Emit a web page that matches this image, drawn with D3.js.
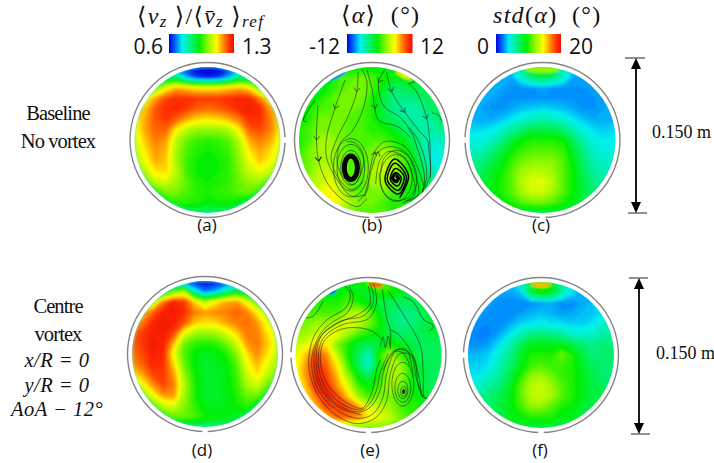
<!DOCTYPE html>
<html>
<head>
<meta charset="utf-8">
<script src="https://cdn.jsdelivr.net/npm/d3@7"></script>
<style>
html, body { margin: 0; padding: 0; background: #fff; }
svg { display: block; }
.math { font-family: "Liberation Serif", "DejaVu Serif", serif; font-style: italic; }
.num { font-family: "Open Sans", "Noto Sans", sans-serif; }
</style>
</head>
<body>
<svg id="chart" width="714" height="463"></svg>
<script>
// colour map: position on the bar -> colour
var stopPos = [0, 0.1, 0.2, 0.33, 0.47, 0.6, 0.73, 0.83, 0.93, 1];
var stopColor = ["#0000e0", "#0070ff", "#00f0f0", "#00f080", "#00f000", "#90f800", "#ffff00", "#ff9000", "#ff3000", "#f01000"];

var barMin = ["0.6", "-12", "0"];
var barMax = ["1.3", "12", "20"];
var captions = ["(a)", "(b)", "(c)", "(d)", "(e)", "(f)"];

// fields, 15 x 15 nodes from top-left, x/R and y/R from -1 to 1
var fieldA = [
.6,.6,.6,.6,.6,.6,.6,.6,.6,.6,.6,.6,.6,.6,.6,
.85,.85,.85,.85,.85,.72,.64,.62,.64,.72,.85,.85,.85,.85,.85,
1.0,1.0,1.0,1.1,1.16,1.14,1.12,1.12,1.12,1.14,1.16,1.12,1.0,1.0,1.0,
1.1,1.1,1.17,1.24,1.26,1.26,1.25,1.25,1.25,1.26,1.27,1.27,1.2,1.1,1.1,
1.15,1.15,1.23,1.26,1.27,1.25,1.22,1.21,1.22,1.24,1.27,1.28,1.27,1.18,1.15,
1.1,1.17,1.23,1.25,1.22,1.17,1.14,1.13,1.14,1.16,1.2,1.26,1.26,1.2,1.12,
1.1,1.17,1.22,1.22,1.12,1.06,1.03,1.03,1.03,1.05,1.12,1.22,1.24,1.2,1.12,
1.08,1.15,1.2,1.18,1.06,1.0,.97,.96,.97,.99,1.06,1.17,1.2,1.17,1.1,
1.06,1.13,1.18,1.16,1.04,.98,.95,.94,.95,.97,1.03,1.13,1.17,1.14,1.08,
1.05,1.1,1.17,1.15,1.04,.97,.94,.93,.94,.96,1.02,1.1,1.15,1.12,1.05,
1.0,1.06,1.13,1.14,1.06,.97,.94,.93,.94,.96,1.01,1.07,1.1,1.07,1.0,
.95,.98,1.07,1.08,1.04,.99,.95,.94,.95,.96,1.0,1.03,1.03,.98,.95,
.9,.9,.95,1.01,1.01,.98,.96,.95,.96,.97,.99,1.0,.95,.9,.9,
.88,.88,.88,.92,.96,.96,.95,.93,.94,.94,.92,.88,.88,.88,.88,
.85,.85,.85,.85,.85,.85,.85,.85,.85,.85,.85,.85,.85,.85,.85];

var fieldB = [
-1,-1,-1,-1,-1,-1,-1,-1,-1,-1,-1,-1,-1,-1,-1,
-2,-2,-2,-1,1,1,2,1,0,-1,-1,-1,-3,-3,-3,
-2,-2,-2,0,1,2,2,1,-1,-3,-3,-2,-3,-3,-3,
-2,-2,0,1,2,2,2,0,-2,-4,-4,-4,-3,-3,-3,
-2,0,1,1,2,2,1,0,-2,-4,-5,-5,-4,-3,-3,
-1,0,2,2,2,1,1,0,-2,-3,-4,-5,-5,-4,-3,
0,1,2,2,2,1,1,0,0,-1,-3,-4,-5,-5,-4,
0,1,3,3,2,1,1,1,1,0,-1,-3,-5,-6,-5,
0,2,3,3,2,1,1,2,3,2,0,-2,-5,-7,-6,
1,2,3,3,2,1,1,2,4,3,1,-1,-4,-7,-6,
1,2,4,4,2,1,1,3,4,3,1,-1,-3,-6,-5,
2,3,4,5,3,1,1,3,3,2,1,0,-2,-4,-4,
2,3,5,6,4,2,1,2,2,1,0,-1,-1,-2,-2,
2,3,5,6,5,3,2,2,1,0,0,-1,-1,-1,-1,
1,1,1,2,2,2,1,1,1,0,0,0,0,0,0];

var fieldC = [
3,3,3,3,4,7,9,9,9,6,3,3,3,3,3,
3,3,3,3,3,5,7,8,7,5,3,3,3,3,3,
3,3,3,3,2.7,2.7,2.7,3,2.7,2.7,2.7,2.7,3,3,3,
3,3,3,2.7,2.7,2.7,2.7,2.7,2.7,2.7,2.7,2.5,2.7,3,3,
3,3,2.7,2.7,3,3.4,3.6,3.8,3.6,3.4,3,2.7,2.7,3,3,
3.2,3,3,3.4,4,4.8,5.3,5.8,5.3,4.8,4,3.4,3,3,3.2,
3.8,3.8,4,4.8,6,7,8,8,8,7,5.5,4.4,3.8,3.6,3.8,
4.5,4.5,5,6.5,8,9.5,10,10,10,9.5,7.5,5.5,4.4,4,4.2,
5,5.5,6.5,8,9.5,10.5,11,11,11,10.5,8.5,6.5,5,4.5,4.5,
6,6.5,7.5,9,10.5,11.5,12,12,12,11,9,7,5.5,5,5,
7,7.5,8.5,9.5,11,12.5,13,13,12.5,11,9.5,7.5,6,5.5,5.5,
8,8,9,10,11,13,14,14.2,13,11,9.5,8,6.5,6,6,
8,8,9,10,11,12.5,13.5,13.5,12.5,11,9.5,8,7,7,7,
8,8,8,9,10,11,11.5,11.5,11,10,9,8,7,7,7,
8,8,8,8,8,8,8,8,8,8,8,8,8,8,8];

var fieldD = [
.6,.6,.6,.6,.6,.6,.6,.6,.6,.6,.6,.6,.6,.6,.6,
.88,.88,.88,.88,1.0,1.05,.78,.68,.72,.82,.9,.88,.88,.88,.88,
1.05,1.05,1.05,1.2,1.28,1.25,1.14,1.05,1.12,1.17,1.18,1.1,1.0,1.0,1.0,
1.15,1.15,1.22,1.28,1.29,1.26,1.2,1.18,1.19,1.2,1.22,1.2,1.12,1.05,1.05,
1.2,1.2,1.27,1.29,1.28,1.23,1.15,1.13,1.14,1.17,1.2,1.21,1.18,1.1,1.05,
1.22,1.25,1.28,1.29,1.24,1.1,1.04,1.03,1.04,1.08,1.14,1.2,1.2,1.13,1.08,
1.22,1.25,1.29,1.28,1.16,1.0,.96,.95,.96,1.0,1.07,1.18,1.2,1.15,1.08,
1.2,1.24,1.28,1.27,1.1,.98,.93,.91,.92,.95,1.02,1.13,1.19,1.13,1.06,
1.18,1.22,1.27,1.26,1.14,1.0,.93,.9,.91,.93,.98,1.1,1.16,1.1,1.04,
1.12,1.17,1.24,1.25,1.18,1.03,.94,.9,.9,.92,.97,1.07,1.13,1.06,1.0,
1.05,1.1,1.18,1.24,1.2,1.05,.95,.9,.9,.92,.96,1.04,1.08,1.0,.95,
1.0,1.0,1.1,1.18,1.18,1.04,.95,.9,.9,.91,.95,1.0,1.0,.93,.9,
.95,.95,.98,1.06,1.08,1.02,.96,.92,.91,.92,.94,.96,.9,.88,.88,
.9,.9,.9,.95,1.0,1.0,.98,.94,.93,.93,.9,.88,.88,.88,.88,
.85,.85,.85,.85,.85,.85,.85,.85,.85,.85,.85,.85,.85,.85,.85];

var fieldE = [
-2,-2,-2,-2,-2,-2,-1,1,2,1,-2,-2,-2,-2,-2,
-1,-1,-1,-1,-1,0,-1,-2,0,0,-1,-2,-2,-2,-2,
0,0,0,0,0,1,0,-1,-2,-3,-3,-3,-2,-2,-2,
1,1,1,1,1,3,4,2,-1,-3,-4,-4,-3,-2,-2,
2,2,3,3,4,5,4,2,0,-3,-4,-4,-3,-2,-2,
3,3,4,5,5,3,1,0,-1,-2,-3,-3,-3,-2,-2,
4,5,7,6,2,0,-2,-3,-2,0,-1,-2,-3,-3,-3,
5,7,10,8,4,0,-3,-6,0,3,1,-1,-3,-3,-3,
5,8,11,9,6,1,-3,-6,-1,3,3,0,-2,-3,-3,
5,8,11,10,7,3,-1,-3,0,3,3,0,-2,-3,-3,
5,7,11,11,8,5,1,-1,1,3,2,0,-2,-3,-3,
4,6,9,11,10,7,3,1,2,2,1,0,-1,-2,-2,
3,5,7,10,10,10,8,5,4,3,1,0,0,-1,-1,
2,3,5,7,9,9,8,6,5,4,2,1,0,0,0,
2,2,2,2,2,2,2,2,2,2,2,2,2,2,2];

var fieldF = [
3,3,3,3,3,5,8,10,9,6,3,3,3,3,3,
3,3,3,3,3,3.5,8,10,9,6,4,3,3,3,3,
3,3,3,2.6,2.5,2.5,2.6,2.8,3,2.6,2.5,3,3.5,3,3,
3,3,2.6,2.5,2.5,2.8,3.2,3.4,3.2,2.8,3,3.3,3.5,4,4,
3,2.6,2.5,2.5,3,3.7,4,4.2,4,3.9,3.6,3.6,4,5,5,
2.6,2.4,2.4,3,4,5.5,6.5,7,6.5,6,5,5,5,6,6,
2.6,2.6,3,4,5.5,7.5,9,9,9,9,8,7,6.5,7,7,
3.3,3.3,3.7,4.8,6.5,8.5,10,10,10,11.5,10,8,7,7,7,
3.6,3.6,4,5.5,7,9,10.5,11,10.5,10.5,10,8.5,7.5,7,7,
4,4,5,6,8,10,12,12.5,11.5,10.5,10,9,8,7,7,
5,5,6,7,8.5,11,13,13.5,12.5,11,10,9,8,7.5,7.5,
6,6,7,8,9,11,13,13.5,12.5,11,10,9,8,8,8,
7,7,7,8,9,10.5,12,12,11,10,9.5,8.5,8,8,8,
8,8,8,8,9,9.5,10,10,10,9,9,8,8,8,8,
8,8,8,8,8,8,8,8,8,8,8,8,8,8,8];

// thin patches against the wall that the grid is too coarse for: [x/R, y/R, half length, half depth, value]
var spotsB = [[-.47,.88,.13,.025,-10],[.43,.88,.12,.022,6]];
var spotsC = [[0,.96,.23,.04,12]];
var spotsE = [[-.49,.86,.06,.02,-10],[.1,.96,.1,.035,9]];
var spotsF = [[0,.96,.14,.03,16]];

// streamlines of (b) and (e), [x/R, y/R] points
var linesB = [
    [[-.78,.54],[-.94,.27],[-.89,.25]],
    [[-.74,.47],[-.76,0],[-.73,-.29],[-.6,-.61],[-.37,-.84],[-.19,-.91],[-.07,-.8]],
    [[-.37,.82],[-.51,.43],[-.62,.04],[-.62,-.25],[-.46,-.57],[-.28,-.77],[-.09,-.75]],
    [[-.19,.93],[-.21,.66],[-.32,.34],[-.48,.02],[-.56,-.25],[-.46,-.52],[-.28,-.68],[-.12,-.57]],
    [[-.14,.97],[-.07,.8],[-.12,.43],[-.28,.11],[-.42,-.02],[-.48,-.25],[-.42,-.47],[-.26,-.61],[-.14,-.43],[-.12,-.2],[-.23,-.04],[-.35,-.02]],
    [[-.07,.96],[0,.7],[.04,.43],[.09,.27],[.36,.18],[.52,.04]],
    [[.18,.97],[.09,.79],[.16,.47],[.41,.29],[.54,.09]],
    [[.2,.93],[.27,.66],[.45,.38],[.66,.11],[.76,0],[.78,-.16],[.8,-.47],[.72,-.66]],
    [[.5,.77],[.61,.66],[.75,.29],[.79,0],[.8,-.2],[.8,-.52]],
    [[.5,.77],[.59,.8]],
    [[.82,.37],[.91,.34],[.96,.25]],
    [[-.19,-.84],[-.07,-.7],[-.03,-.43],[.04,-.16],[.18,-.02],[.45,-.09],[.66,-.47],[.7,-.7],[.52,-.84]],
    [[-.1,-.77],[0,-.38],[.09,-.16],[.25,-.09],[.47,-.18],[.61,-.52],[.63,-.75],[.47,-.84]],
    [[.05,-.6],[.1,-.3],[.22,-.16],[.42,-.22],[.56,-.5],[.58,-.75],[.42,-.86]],
    [[.55,.1],[.6,-.05],[.68,-.3],[.72,-.55],[.66,-.78],[.5,-.88]],
    [[.5,.18],[.62,.02],[.72,-.25],[.75,-.5],[.68,-.72]],
    [[.1,-.45],[.14,-.68],[.28,-.82],[.48,-.8],[.6,-.65],[.6,-.42],[.5,-.22],[.32,-.14],[.16,-.26],[.12,-.45]]
];
var arrowsB = [[1,1],[1,2],[1,2],[1,2],[2,1],[3,1],[5,2],[6,1],[7,1],[7,2],[8,2],[11,3],[12,2]];
var spiralB = [[.33,-.49],[.36,-.52],[.33,-.57],[.28,-.52],[.33,-.45],[.40,-.52],[.35,-.63],[.25,-.54],[.32,-.39],[.44,-.50],[.36,-.69],[.21,-.55],[.31,-.32],[.47,-.50],[.36,-.74],[.18,-.56],[.31,-.26],[.50,-.49],[.38,-.79]];
var ringsB = [[-.29,-.38,.19,.32],[-.29,-.38,.14,.24],[-.29,-.38,.24,.40],[.33,-.52,.22,.32]];
var heavyRingB = [-.29,-.38,.09,.16];

var linesE = [
    [[-.62,.74],[-.76,.53],[-.87,.51]],
    [[-.34,.96],[-.25,.84],[-.3,.66],[-.57,.48],[-.75,.25],[-.82,-.11],[-.73,-.48],[-.48,-.8],[-.16,-.94],[.11,-.85],[.25,-.62],[.3,-.25],[.43,.02],[.61,-.02],[.68,-.39],[.75,-.59]],
    [[-.27,.94],[-.21,.8],[-.28,.59],[-.55,.41],[-.71,.2],[-.78,-.11],[-.69,-.48],[-.44,-.75],[-.14,-.87],[.07,-.8],[.2,-.57],[.25,-.25],[.39,.07],[.57,.02],[.66,-.34],[.73,-.57]],
    [[.02,.98],[.07,.75],[-.05,.55],[-.39,.46],[-.64,.27],[-.72,-.02],[-.64,-.43],[-.39,-.7],[-.12,-.78],[.04,-.7],[.16,-.48],[.2,-.25],[.34,.05],[.52,.07],[.61,-.3]],
    [[.07,.98],[.11,.73],[0,.5],[-.37,.41],[-.62,.23],[-.69,-.07],[-.6,-.43],[-.35,-.68],[-.09,-.75],[.02,-.66],[.11,-.48],[.16,-.25],[.27,.02]],
    [[0,.94],[.02,.7],[-.12,.57],[-.43,.43],[-.66,.25],[-.75,-.05],[-.66,-.45],[-.4,-.72],[-.1,-.82]],
    [[.2,.2],[.02,.34],[-.35,.36],[-.6,.2],[-.66,-.07],[-.57,-.39],[-.32,-.64],[-.09,-.73],[0,-.62],[.07,-.43],[.11,-.2],[.16,-.07]],
    [[.3,.34],[.39,.3],[.57,.07],[.68,-.25],[.75,-.57],[.82,-.59]],
    [[.19,.9],[.25,.5],[.3,.34],[.3,.1]],
    [[.27,.88],[.48,.55],[.71,.13],[.75,-.26],[.77,-.59],[.84,-.6]],
    [[.48,.8],[.62,.72],[.75,.49],[.89,.4],[.84,.33]],
    [[.16,.12],[.2,.25],[.23,.1],[.27,.26],[.3,.08]],
    [[.2,-.2],[.3,-.02],[.36,.05],[.47,.03],[.57,-.15]]
];
var ringsE = [[.48,-.5,.04,.07],[.47,-.48,.07,.12],[.47,-.45,.11,.2],[.47,-.4,.15,.3]];

var rowLabels = [
    {text: "Baseline", y: 120},
    {text: "No vortex", y: 148},
    {text: "Centre", y: 313},
    {text: "vortex", y: 341}
];
var rowMath = [
    {text: "x/R = 0", y: 367},
    {text: "y/R = 0", y: 392},
    {text: "AoA − 12°", y: 416}
];

var panels = [
    {field: fieldA, dom: [.6, 1.3], cx: 207.5, cy: 140, gaps: [0], cap: [207, 231], rim: true},
    {field: fieldB, dom: [-12, 12], cx: 372, cy: 140, gaps: [90], cap: [372, 231], lines: linesB, spots: spotsB},
    {field: fieldC, dom: [0, 20], cx: 542.5, cy: 140, gaps: [90, 180], cap: [541, 231], spots: spotsC},
    {field: fieldD, dom: [.6, 1.3], cx: 205, cy: 354, gaps: [90], cap: [202, 456], rim: true},
    {field: fieldE, dom: [-12, 12], cx: 368.5, cy: 355, gaps: [90, 180], cap: [370, 456], lines: linesE, spots: spotsE},
    {field: fieldF, dom: [0, 20], cx: 541, cy: 355, gaps: [90, 180], cap: [540, 456], spots: spotsF}
];
var fillR = 73, ringR = 77.5;

var svg = d3.select("#chart");
var defs = svg.append("defs");
defs.append("filter").attr("id", "soft")
    .attr("x", "-10%").attr("y", "-10%").attr("width", "120%").attr("height", "120%")
    .append("feGaussianBlur").attr("stdDeviation", 1.1);
defs.append("filter").attr("id", "softLine")
    .attr("x", "-10%").attr("y", "-10%").attr("width", "120%").attr("height", "120%")
    .append("feGaussianBlur").attr("stdDeviation", 0.35);

var colorOf = d3.scaleLinear().domain(stopPos).range(stopColor).clamp(true);

var gradient = defs.append("linearGradient").attr("id", "bar");
gradient.selectAll("stop").data(stopPos).enter().append("stop")
    .attr("offset", function(d) { return d; })
    .attr("stop-color", function(d, i) { return stopColor[i]; });

panels.forEach(function(p, n) {
    var x = d3.scaleLinear().domain([-1, 1]).range([p.cx - fillR, p.cx + fillR]);
    var y = d3.scaleLinear().domain([-1, 1]).range([p.cy + fillR, p.cy - fillR]);
    var t = d3.scaleLinear().domain(p.dom).range([0, 1]);

    var clipId = "clip" + n;
    defs.append("clipPath").attr("id", clipId).append("circle")
        .attr("cx", p.cx).attr("cy", p.cy).attr("r", fillR);

    // grid node i sits at contour coordinate i + 0.5
    var gx = d3.scaleLinear().domain([0.5, 14.5]).range([-1, 1]);
    var gy = d3.scaleLinear().domain([0.5, 14.5]).range([1, -1]);
    var proj = d3.geoTransform({point: function(a, b) {
        this.stream.point(x(gx(a)), y(gy(b)));
    }});
    var path = d3.geoPath(proj);

    var levels = d3.range(0, 80).map(function(k) { return p.dom[0] + (p.dom[1] - p.dom[0]) * k / 80; });
    var contours = d3.contours().size([15, 15]).thresholds(levels)(p.field);

    var clipped = svg.append("g").attr("clip-path", "url(#" + clipId + ")");
    var g = clipped.append("g").attr("filter", "url(#soft)");
    g.append("rect").attr("x", p.cx - fillR - 6).attr("y", p.cy - fillR - 6)
        .attr("width", 2 * fillR + 12).attr("height", 2 * fillR + 12)
        .attr("fill", colorOf(0));
    g.selectAll("path").data(contours).enter().append("path")
        .attr("d", path)
        .attr("fill", function(d) { return colorOf(t(d.value)); });

    if (p.spots) {
        g.selectAll("ellipse").data(p.spots).enter().append("ellipse")
            .attr("cx", function(d) { return x(d[0]); }).attr("cy", function(d) { return y(d[1]); })
            .attr("rx", function(d) { return x(d[2]) - x(0); }).attr("ry", function(d) { return y(0) - y(d[3]); })
            .attr("transform", function(d) {
                return "rotate(" + (Math.atan2(d[0], d[1]) * 180 / Math.PI) + " " + x(d[0]) + " " + y(d[1]) + ")";
            })
            .attr("fill", function(d) { return colorOf(t(d[4])); });
    }
    if (p.rim) {
        // thin cyan edge of the velocity maps
        g.append("circle").attr("cx", p.cx).attr("cy", p.cy).attr("r", fillR)
            .attr("fill", "none").attr("stroke", "#20e8a0").attr("stroke-width", 1.8).attr("stroke-opacity", 0.7);
    }

    if (p.lines) {
        var line = d3.line().x(function(d) { return x(d[0]); }).y(function(d) { return y(d[1]); })
            .curve(d3.curveCatmullRom.alpha(0.5));
        var s = clipped.append("g").attr("filter", "url(#softLine)")
            .attr("fill", "none").attr("stroke", "#202020");
        s.selectAll("path.stream").data(p.lines).enter().append("path")
            .attr("class", "stream").attr("d", line)
            .attr("stroke-width", 0.8).attr("stroke-opacity", 0.7);
        if (p.field === fieldB) {
            s.append("path").attr("d", line(spiralB)).attr("stroke", "#000").attr("stroke-width", 1.5);
            s.append("path").attr("d", line(spiralB.slice(0, 5))).attr("stroke", "#000").attr("stroke-width", 3.5);
            s.selectAll("ellipse.thin").data(ringsB).enter().append("ellipse")
                .attr("class", "thin")
                .attr("cx", function(d) { return x(d[0]); }).attr("cy", function(d) { return y(d[1]); })
                .attr("rx", function(d) { return x(d[2]) - x(0); }).attr("ry", function(d) { return y(0) - y(d[3]); })
                .attr("stroke-width", 0.8).attr("stroke-opacity", 0.7);
            s.append("ellipse")
                .attr("cx", x(heavyRingB[0])).attr("cy", y(heavyRingB[1]))
                .attr("rx", x(heavyRingB[2]) - x(0)).attr("ry", y(0) - y(heavyRingB[3]))
                .attr("stroke", "#000").attr("stroke-width", 5);
            // small chevrons along the lines, pointing with the flow
            arrowsB.forEach(function(a) {
                var l = linesB[a[0]], q = l[a[1]], o = l[a[1] - 1];
                var ang = Math.atan2(y(q[1]) - y(o[1]), x(q[0]) - x(o[0])) * 180 / Math.PI;
                s.append("path").attr("d", "M-4,-3L0,0L-4,3")
                    .attr("transform", "translate(" + x(q[0]) + "," + y(q[1]) + ") rotate(" + ang + ")")
                    .attr("stroke-width", 0.9).attr("stroke-opacity", 0.7);
            });
        } else {
            s.selectAll("ellipse").data(ringsE).enter().append("ellipse")
                .attr("cx", function(d) { return x(d[0]); }).attr("cy", function(d) { return y(d[1]); })
                .attr("rx", function(d) { return x(d[2]) - x(0); }).attr("ry", function(d) { return y(0) - y(d[3]); })
                .attr("stroke-width", 0.8).attr("stroke-opacity", 0.7);
            s.append("ellipse").attr("cx", x(.48)).attr("cy", y(-.5))
                .attr("rx", 1.5).attr("ry", 2.5).attr("fill", "#222").attr("stroke", "none");
        }
    }

    // pipe wall, with the small breaks it has in the source
    svg.append("circle").attr("cx", p.cx).attr("cy", p.cy).attr("r", ringR)
        .attr("fill", "none").attr("stroke", "#858585").attr("stroke-width", 1.4);
    p.gaps.forEach(function(a) {
        var arc = d3.arc().innerRadius(ringR - 1.5).outerRadius(ringR + 1.5)
            .startAngle((a + 88) * Math.PI / 180).endAngle((a + 92) * Math.PI / 180);
        svg.append("path").attr("d", arc()).attr("transform", "translate(" + p.cx + "," + p.cy + ")").attr("fill", "#fff");
    });

    svg.append("text").attr("class", "num")
        .attr("x", p.cap[0]).attr("y", p.cap[1]).attr("text-anchor", "middle")
        .attr("font-size", 17).attr("fill", "#111").text(captions[n]);
});

// colour bars
var barX = [169, 347, 496], barW = 65, barTop = 34, barH = 19;
var minX = [163, 340, 489], maxX = [242, 420, 569];
barX.forEach(function(bx, i) {
    svg.append("rect").attr("x", bx).attr("y", barTop).attr("width", barW + (i === 1 ? 0.5 : 0)).attr("height", barH)
        .attr("fill", "url(#bar)");
    svg.append("text").attr("class", "num").attr("x", minX[i]).attr("y", 54)
        .attr("text-anchor", "end").attr("font-size", 21).attr("fill", "#111").text(barMin[i]);
    svg.append("text").attr("class", "num").attr("x", maxX[i]).attr("y", 54)
        .attr("font-size", 21).attr("fill", "#111").text(barMax[i]);
});

// titles
function mathTitle(x, y, parts) {
    var t = svg.append("text").attr("class", "math").attr("x", x).attr("y", y)
        .attr("font-size", 24).attr("letter-spacing", 1.3).attr("fill", "#111");
    var lastDy = 0;
    parts.forEach(function(part) {
        var dy = part.sub ? 3 : 0;
        t.append("tspan").attr("dy", dy - lastDy)
            .attr("font-size", part.sub ? 17 : 24)
            .attr("font-style", part.roman ? "normal" : "italic")
            .text(part.s);
        lastDy = dy;
    });
}
mathTitle(137, 24, [
    {s: "⟨", roman: true}, {s: "v"}, {s: "z", sub: true}, {s: "\u00a0⟩/⟨", roman: true},
    {s: "v̄"}, {s: "z", sub: true}, {s: "\u00a0⟩", roman: true}, {s: "ref", sub: true}
]);
mathTitle(341, 23, [{s: "⟨", roman: true}, {s: "α"}, {s: "⟩\u00a0\u00a0(°)", roman: true}]);
mathTitle(493, 23, [{s: "std"}, {s: "(", roman: true}, {s: "α"}, {s: ")\u00a0\u00a0(°)", roman: true}]);

// row labels on the left
svg.selectAll("text.row").data(rowLabels).enter().append("text").attr("class", "row")
    .attr("x", 58).attr("y", function(d) { return d.y; }).attr("text-anchor", "middle")
    .attr("font-family", "Liberation Serif").attr("font-size", 20.5).attr("letter-spacing", -0.9)
    .attr("fill", "#111").text(function(d) { return d.text; });
svg.selectAll("text.rowm").data(rowMath).enter().append("text").attr("class", "rowm math")
    .attr("x", 57).attr("y", function(d) { return d.y; }).attr("text-anchor", "middle")
    .attr("font-size", 20.5).attr("letter-spacing", 0.5).attr("fill", "#111").text(function(d) { return d.text; });

// size arrows
var dims = [
    {x: 636, top: 58, bottom: 213, t0: 625, t1: 645, b0: 628, b1: 647, tx: 652, ty: 138},
    {x: 639, top: 278, bottom: 434, t0: 629, t1: 648, b0: 631, b1: 650, tx: 656, ty: 359}
];
dims.forEach(function(d) {
    var g = svg.append("g");
    g.append("line").attr("x1", d.t0).attr("x2", d.t1).attr("y1", d.top).attr("y2", d.top).attr("stroke", "#222");
    g.append("line").attr("x1", d.b0).attr("x2", d.b1).attr("y1", d.bottom).attr("y2", d.bottom).attr("stroke", "#222");
    g.append("line").attr("x1", d.x).attr("x2", d.x).attr("y1", d.top + 6).attr("y2", d.bottom - 6)
        .attr("stroke", "#000").attr("stroke-width", 1.8);
    g.append("path").attr("d", d3.line()([[d.x, d.top], [d.x + 5, d.top + 11], [d.x - 5, d.top + 11]]) + "Z").attr("fill", "#000");
    g.append("path").attr("d", d3.line()([[d.x, d.bottom], [d.x + 5, d.bottom - 11], [d.x - 5, d.bottom - 11]]) + "Z").attr("fill", "#000");
    g.append("text").attr("x", d.tx).attr("y", d.ty)
        .attr("font-family", "Liberation Serif").attr("font-size", 18).attr("fill", "#111")
        .text("0.150 m");
});
</script>
</body>
</html>
